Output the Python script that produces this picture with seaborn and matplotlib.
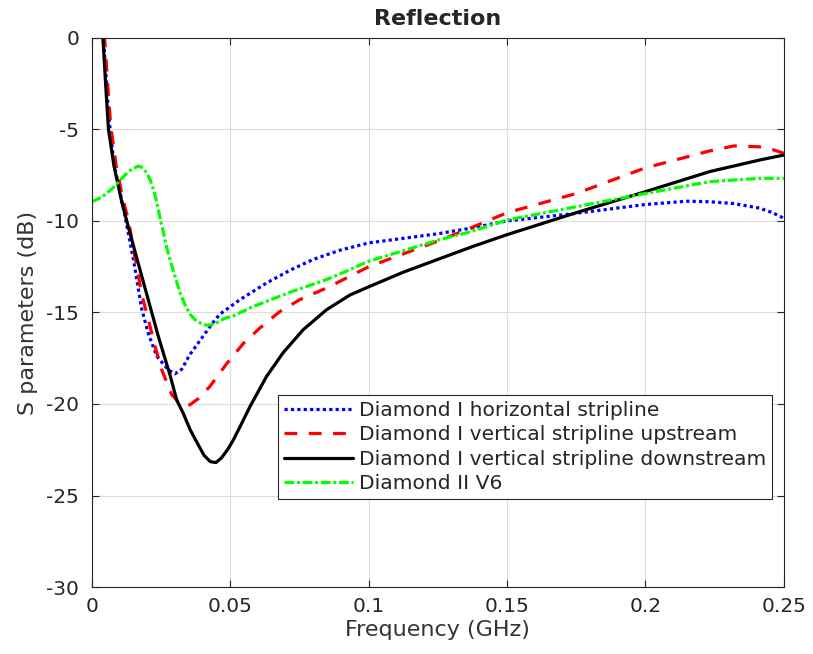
import pandas as pd
import seaborn as sns
import matplotlib.pyplot as plt

# values (frequency in GHz, S11 in dB)
freq_h = [0.003, 0.0042, 0.0052, 0.0063, 0.008, 0.0114, 0.015, 0.018, 0.0205, 0.0235, 0.0277,
          0.030, 0.0325, 0.0354, 0.0397, 0.0435, 0.0462, 0.0535, 0.063, 0.0715, 0.08, 0.0896,
          0.1, 0.125, 0.1366, 0.15, 0.174, 0.2, 0.215, 0.2233, 0.232, 0.2413, 0.246, 0.25]
s_h = [1.5, 0.0, -2.3, -4.6, -6.9, -9.3, -12.1, -14.8, -16.2, -17.4, -18.15,
       -18.35, -18.1, -17.3, -16.4, -15.6, -15.1, -14.3, -13.4, -12.7, -12.1, -11.6,
       -11.2, -10.7, -10.4, -10.0, -9.6, -9.1, -8.92, -8.95, -9.05, -9.3, -9.55, -9.85]

freq_u = [0.0035, 0.0046, 0.0057, 0.0068, 0.0088, 0.0112, 0.0132, 0.015, 0.018, 0.0211, 0.0229,
          0.0253, 0.0289, 0.032, 0.0354, 0.0385, 0.0426, 0.0487, 0.0547, 0.0607, 0.0679, 0.0751,
          0.0842, 0.0896, 0.1, 0.125, 0.1366, 0.15, 0.175, 0.2, 0.2233, 0.232, 0.2413, 0.246, 0.25]
s_u = [1.5, 0.0, -2.5, -4.8, -7.0, -8.8, -9.95, -11.5, -14.0, -15.8, -16.9,
       -18.15, -19.5, -20.0, -20.05, -19.7, -19.05, -17.8, -16.7, -15.85, -14.95, -14.3,
       -13.7, -13.3, -12.5, -11.1, -10.4, -9.55, -8.5, -7.1, -6.17, -5.9, -5.95, -6.1, -6.3]

freq_d = [0.003, 0.004, 0.005, 0.006, 0.008, 0.0108, 0.0133, 0.016, 0.020, 0.024, 0.0282,
          0.0307, 0.033, 0.0355, 0.0378, 0.0405, 0.0428, 0.0448, 0.0468, 0.049, 0.051, 0.054,
          0.0571, 0.0631, 0.0691, 0.0763, 0.0848, 0.0932, 0.1, 0.1125, 0.125, 0.1375, 0.15,
          0.1625, 0.175, 0.2, 0.2233, 0.2413, 0.25]
s_d = [1.5, 0.0, -2.6, -5.0, -7.0, -8.95, -10.4, -11.9, -14.1, -16.3, -18.4,
       -19.8, -20.5, -21.4, -22.05, -22.8, -23.15, -23.2, -22.95, -22.5, -22.0, -21.1,
       -20.15, -18.5, -17.2, -15.95, -14.85, -14.05, -13.6, -12.8, -12.1, -11.4, -10.75,
       -10.15, -9.55, -8.4, -7.3, -6.67, -6.4]

freq_v6 = [0.0, 0.0036, 0.0072, 0.0095, 0.0119, 0.0145, 0.0169, 0.0185, 0.0199, 0.0212, 0.0223,
           0.0235, 0.0247, 0.0259, 0.0271, 0.0286, 0.0301, 0.0318, 0.0337, 0.0355, 0.0373, 0.0395,
           0.0415, 0.044, 0.0482, 0.051, 0.0578, 0.063, 0.0715, 0.0848, 0.0896, 0.1, 0.125,
           0.1366, 0.15, 0.174, 0.2, 0.2233, 0.2413, 0.25]
s_v6 = [-8.95, -8.7, -8.25, -7.9, -7.5, -7.15, -7.0, -7.1, -7.4, -7.8, -8.3,
        -9.0, -9.9, -10.65, -11.5, -12.3, -13.05, -13.9, -14.6, -15.1, -15.4, -15.6,
        -15.7, -15.65, -15.3, -15.2, -14.7, -14.4, -13.9, -13.2, -12.9, -12.2, -11.05,
        -10.6, -9.95, -9.25, -8.5, -7.85, -7.67, -7.67]

labels = ['Diamond I horizontal stripline',
          'Diamond I vertical stripline upstream',
          'Diamond I vertical stripline downstream',
          'Diamond II V6']

sns.set_style('whitegrid')
plt.rcParams['font.family'] = ['DejaVu Sans']
plt.rcParams['axes.unicode_minus'] = False

fig = plt.figure(figsize=(8.13, 6.54), dpi=100)
ax = fig.add_axes([0.113, 0.1024, 0.851, 0.8396])

series = [(freq_h, s_h, 'blue', (1, 1)),
          (freq_u, s_u, 'red', (4, 3.6)),
          (freq_d, s_d, 'black', None),
          (freq_v6, s_v6, '#00ff00', (3, 0.9, 0.9, 0.9))]
for (f, s, c, dash), lab in zip(series, labels):
    df = pd.DataFrame({'f': f, 's': s})
    sns.lineplot(data=df, x='f', y='s', ax=ax, color=c, linewidth=2.3,
                 label=lab, sort=False)
    if dash is not None:
        ax.lines[-1].set_dashes(dash)

ax.set_xlim(0, 0.25)
ax.set_ylim(-30, 0)
ax.set_xticks([0, 0.05, 0.1, 0.15, 0.2, 0.25])
ax.set_xticklabels(['0', '0.05', '0.1', '0.15', '0.2', '0.25'])
ax.set_yticks(range(-30, 1, 5))
ax.tick_params(direction='in', length=5, colors='#262626', labelsize=14.5,
               top=True, right=True, bottom=True, left=True)
ax.tick_params(axis='x', pad=7)
ax.tick_params(axis='y', pad=9)
ax.grid(True, color='#dcdcdc', linewidth=0.8)
for sp in ax.spines.values():
    sp.set_color('#262626')
    sp.set_linewidth(0.8)

ax.set_xlabel('Frequency (GHz)', fontsize=16, color='#333333', labelpad=3)
ax.set_ylabel('S parameters (dB)', fontsize=16, color='#333333', labelpad=6)
ax.set_title('Reflection', fontsize=16, fontweight='bold', pad=9)

leg = ax.legend(loc='lower right', bbox_to_anchor=(0.983, 0.16), fontsize=14.6,
                frameon=True, fancybox=False, edgecolor='#262626', framealpha=1,
                handlelength=3.4, borderpad=0.3, labelspacing=0.27, handletextpad=0.3,
                borderaxespad=0)
leg.get_frame().set_linewidth(0.8)

fig.savefig('out.png', dpi=100)
